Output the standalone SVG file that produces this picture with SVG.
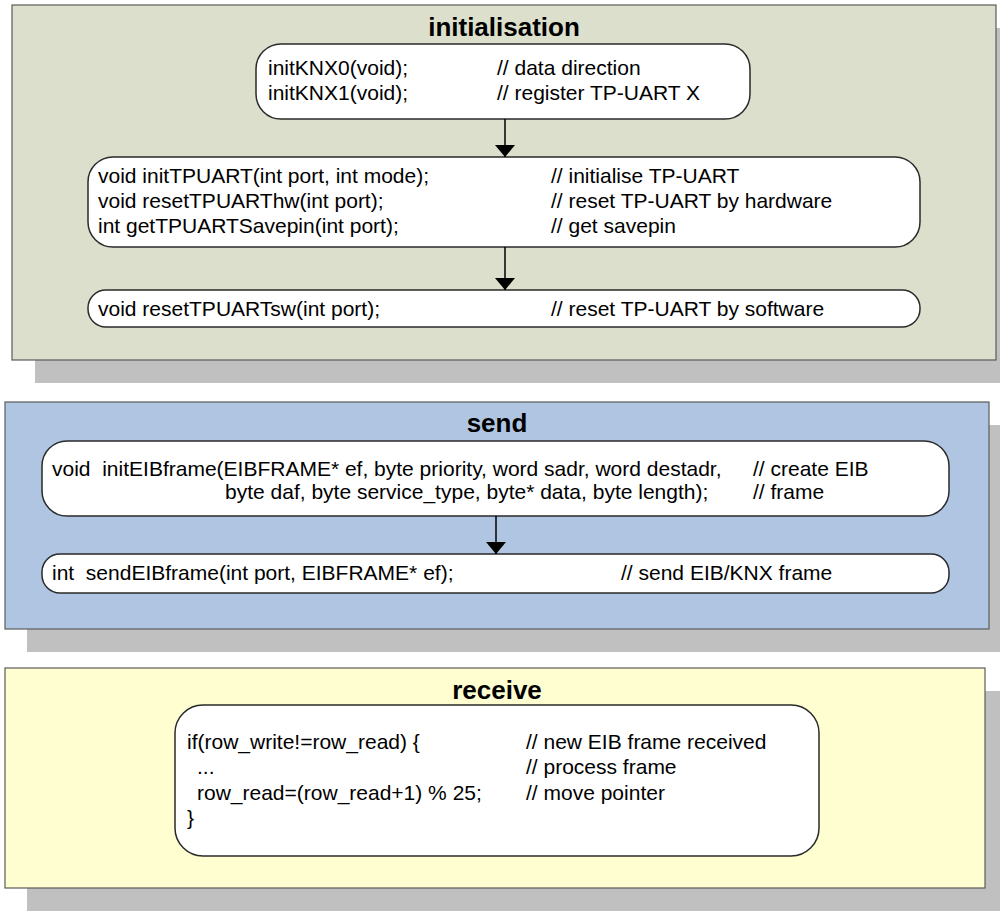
<svg xmlns="http://www.w3.org/2000/svg" width="1000" height="911" viewBox="0 0 1000 911">
<defs>
<style>
.shadow{fill:#c0c0c0;stroke:none}
.cont{stroke:#5a5a5a;stroke-width:1.2}
.node{fill:#ffffff;stroke:#2a2a2a;stroke-width:1.5}
.title{font-family:"Liberation Sans",Arial,sans-serif;font-weight:bold;font-size:26px;fill:#000;text-anchor:middle}
.t{font-family:"Liberation Sans",Arial,sans-serif;font-size:21px;fill:#000}
.edge{stroke:#000;stroke-width:1.5;fill:none}
</style>
<marker id="arr" viewBox="0 0 12 20" refX="12" refY="10" markerWidth="12" markerHeight="20" markerUnits="userSpaceOnUse" orient="auto">
<path d="M0,0 L12,10 L0,20 Z" fill="#000"/>
</marker>
</defs>
<g id="container-initialisation">
<rect class="shadow" x="35" y="28" width="965" height="355"/>
<rect class="cont" x="12" y="5" width="984" height="355" fill="#dcdfcb"/>
<text class="title" x="504" y="36">initialisation</text>
</g>
<g id="container-send">
<rect class="shadow" x="27" y="425" width="973" height="227"/>
<rect class="cont" x="5" y="402" width="984" height="227" fill="#b0c5e2"/>
<text class="title" x="497" y="432">send</text>
</g>
<g id="container-receive">
<rect class="shadow" x="27" y="691" width="973" height="220"/>
<rect class="cont" x="5" y="668" width="980" height="220" fill="#fefed0"/>
<text class="title" x="497" y="699">receive</text>
</g>
<g id="node-initKNX">
<rect class="node" x="256" y="44" width="494" height="75" rx="25" ry="25"/>
<text class="t" x="268" y="75">initKNX0(void);</text>
<text class="t" x="497" y="75">// data direction</text>
<text class="t" x="268" y="100">initKNX1(void);</text>
<text class="t" x="497" y="100">// register TP-UART X</text>
</g>
<g id="node-initTPUART">
<rect class="node" x="88" y="157" width="832" height="90" rx="25" ry="25"/>
<text class="t" x="98" y="183">void initTPUART(int port, int mode);</text>
<text class="t" x="551" y="183">// initialise TP-UART</text>
<text class="t" x="98" y="208">void resetTPUARThw(int port);</text>
<text class="t" x="551" y="208">// reset TP-UART by hardware</text>
<text class="t" x="98" y="233">int getTPUARTSavepin(int port);</text>
<text class="t" x="551" y="233">// get savepin</text>
</g>
<g id="node-resetsw">
<rect class="node" x="88" y="290" width="832" height="37" rx="18" ry="18"/>
<text class="t" x="98" y="316">void resetTPUARTsw(int port);</text>
<text class="t" x="551" y="316">// reset TP-UART by software</text>
</g>
<g id="node-initEIBframe">
<rect class="node" x="42" y="441" width="907" height="75" rx="25" ry="25"/>
<text class="t" x="52" y="476" xml:space="preserve">void  initEIBframe(EIBFRAME* ef, byte priority, word sadr, word destadr,</text>
<text class="t" x="753" y="476">// create EIB</text>
<text class="t" x="225" y="499">byte daf, byte service_type, byte* data, byte length);</text>
<text class="t" x="753" y="499">// frame</text>
</g>
<g id="node-sendEIBframe">
<rect class="node" x="42" y="554" width="907" height="39" rx="18" ry="18"/>
<text class="t" x="52" y="580" xml:space="preserve">int  sendEIBframe(int port, EIBFRAME* ef);</text>
<text class="t" x="621" y="580">// send EIB/KNX frame</text>
</g>
<g id="node-receive">
<rect class="node" x="175" y="705" width="644" height="151" rx="28" ry="28"/>
<text class="t" x="187" y="749">if(row_write!=row_read) {</text>
<text class="t" x="526" y="749">// new EIB frame received</text>
<text class="t" x="197" y="774">...</text>
<text class="t" x="526" y="774">// process frame</text>
<text class="t" x="197" y="800">row_read=(row_read+1) % 25;</text>
<text class="t" x="526" y="800">// move pointer</text>
<text class="t" x="187" y="825">}</text>
</g>
<g id="connectors">
<line class="edge" x1="505" y1="119" x2="505" y2="157" marker-end="url(#arr)"/>
<line class="edge" x1="505" y1="247" x2="505" y2="290" marker-end="url(#arr)"/>
<line class="edge" x1="496" y1="516" x2="496" y2="554" marker-end="url(#arr)"/>
</g>
</svg>
